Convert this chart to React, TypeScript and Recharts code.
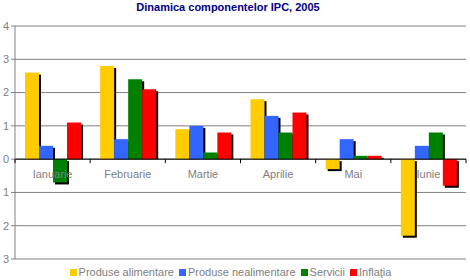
import React from 'react';
import {
  BarChart, Bar, XAxis, YAxis, CartesianGrid, Legend, ReferenceLine
} from 'recharts';

const categories = ['Ianuarie', 'Februarie', 'Martie', 'Aprilie', 'Mai', 'Iunie'];
const alimentare = [2.6, 2.8, 0.9, 1.8, -0.3, -2.3];
const nealimentare = [0.4, 0.6, 1.0, 1.3, 0.6, 0.4];
const servicii = [-0.7, 2.4, 0.2, 0.8, 0.1, 0.8];
const inflatia = [1.1, 2.1, 0.8, 1.4, 0.1, -0.8];
const yTicks = [-3, -2, -1, 0, 1, 2, 3, 4];

const series = [
  { key: 'alimentare', name: 'Produse alimentare', color: '#FFCC00' },
  { key: 'nealimentare', name: 'Produse nealimentare', color: '#3366FF' },
  { key: 'servicii', name: 'Servicii', color: '#008000' },
  { key: 'inflatia', name: 'Inflaţia', color: '#FF0000' },
];

const data = categories.map((c, i) => ({
  name: c,
  alimentare: alimentare[i],
  nealimentare: nealimentare[i],
  servicii: servicii[i],
  inflatia: inflatia[i],
}));

const FONT = '"Liberation Sans", Arial, sans-serif';
const GRAY = '#808080';
const W = 470;
const H = 280;
const PLOT_TOP = 26;
const PLOT_BOTTOM = 259;
const Y_MIN = -3;
const Y_MAX = 4;
// position of the zero line inside the plot (linear scale of the Y axis)
const ZERO_Y = PLOT_TOP + ((PLOT_BOTTOM - PLOT_TOP) * Y_MAX) / (Y_MAX - Y_MIN);

// bar with a black drop shadow
const ShadowBar = (props: any) => {
  const { x, y, width, height, fill } = props;
  if (!width || height === undefined) return null;
  const top = Math.min(y, y + height);
  const h = Math.abs(height);
  const negative = height < 0 || y >= ZERO_Y - 0.5;
  return (
    <g>
      {negative ? (
        <rect x={x + 2} y={top + 2} width={width} height={h} fill="#000" />
      ) : (
        <rect x={x + 2} y={top + 2} width={width} height={Math.max(h - 2, 0)} fill="#000" />
      )}
      <rect x={x} y={top} width={width} height={h} fill={fill} />
    </g>
  );
};

const renderCategoryTick = (props: any) => {
  const { x, payload, index } = props;
  const half = payload && payload.offset ? payload.offset : 37.5;
  const left = x - half;
  return (
    <g key={`tick-${index}`}>
      <line x1={left} x2={left} y1={ZERO_Y} y2={ZERO_Y + 4} stroke="#000" />
      {index === categories.length - 1 && (
        <line x1={x + half} x2={x + half} y1={ZERO_Y} y2={ZERO_Y + 4} stroke="#000" />
      )}
      <text x={x} y={ZERO_Y + 19} textAnchor="middle" fill={GRAY} fontSize={11} fontFamily={FONT}>
        {payload.value}
      </text>
    </g>
  );
};

const LegendContent = () => (
  <div style={{ textAlign: 'center', fontFamily: FONT, fontSize: 11, color: GRAY, lineHeight: '13px', paddingTop: 6 }}>
    {series.map(s => (
      <span key={s.key} style={{ marginRight: 5, whiteSpace: 'nowrap' }}>
        <span style={{ display: 'inline-block', width: 7, height: 7, background: s.color, marginRight: 2 }} />
        {s.name}
      </span>
    ))}
  </div>
);

export default function App() {
  return (
    <div style={{ position: 'absolute', left: 0, top: 0, width: W, height: H, background: '#fff' }}>
      <div style={{
        position: 'absolute', top: 1, left: 0, width: 456, textAlign: 'center',
        fontFamily: FONT, fontWeight: 'bold', fontSize: 11, color: '#000080'
      }}>
        Dinamica componentelor IPC, 2005
      </div>
      <BarChart
        width={W}
        height={H}
        data={data}
        margin={{ top: PLOT_TOP, right: 4, left: 0, bottom: 0 }}
        barGap={0}
        barSize={14}
      >
        <CartesianGrid vertical={false} stroke={GRAY} strokeWidth={1} />
        <XAxis
          dataKey="name"
          height={1}
          axisLine={false}
          tickLine={false}
          interval={0}
          tick={renderCategoryTick}
        />
        <YAxis
          width={15}
          domain={[Y_MIN, Y_MAX]}
          ticks={yTicks}
          interval={0}
          tickFormatter={(v: number) => String(Math.abs(v))}
          tick={{ fill: GRAY, fontSize: 11, fontFamily: FONT }}
          tickSize={4}
          tickMargin={2}
          axisLine={{ stroke: GRAY }}
          tickLine={{ stroke: GRAY }}
        />
        <YAxis yAxisId="right" orientation="right" width={0} tick={false} axisLine={{ stroke: GRAY }} tickLine={false} />
        {series.map(s => (
          <Bar key={s.key} dataKey={s.key} name={s.name} fill={s.color} shape={<ShadowBar />} isAnimationActive={false} />
        ))}
        <ReferenceLine y={0} stroke="#000" />
        <Legend verticalAlign="bottom" height={20} content={<LegendContent />} />
      </BarChart>
    </div>
  );
}
